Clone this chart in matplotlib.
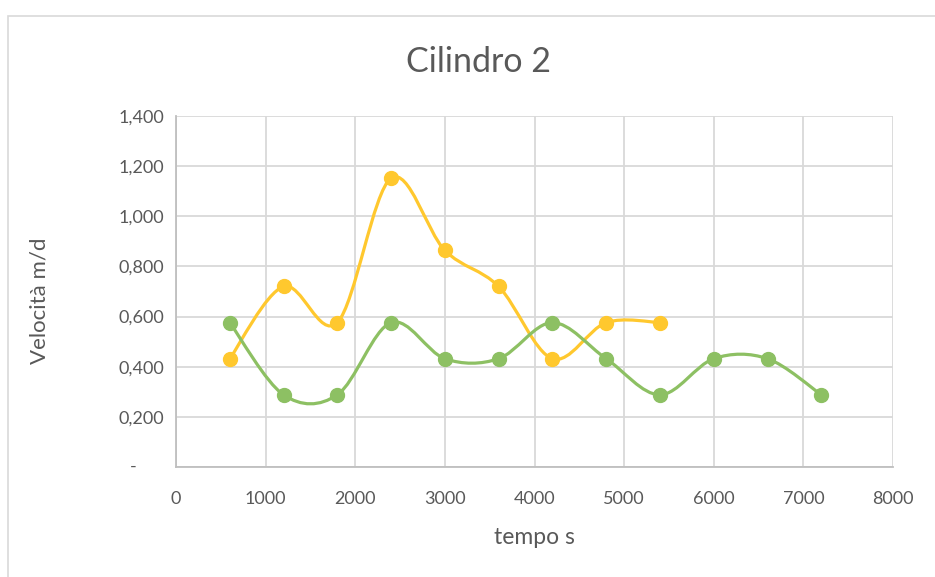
import matplotlib
matplotlib.use("Agg")
import matplotlib.pyplot as plt
from matplotlib.path import Path
from matplotlib.patches import PathPatch, Rectangle
from matplotlib.ticker import FuncFormatter, MultipleLocator

# Data: time (s) and velocity (m/d) for the two series
tempo_a = [600, 1200, 1800, 2400, 3000, 3600, 4200, 4800, 5400]
vel_a = [0.432, 0.720, 0.576, 1.152, 0.864, 0.720, 0.432, 0.576, 0.576]

tempo_b = [600, 1200, 1800, 2400, 3000, 3600, 4200, 4800, 5400, 6000, 6600, 7200]
vel_b = [0.576, 0.288, 0.288, 0.576, 0.432, 0.432, 0.576, 0.432, 0.288, 0.432, 0.432, 0.288]

title = "Cilindro 2"
x_label = "tempo s"
y_label = "Velocità m/d"

COL_A = "#FFC82E"
COL_B = "#8DC063"
TEXT = "#595959"
GRID = "#D9D9D9"

plt.rcParams["font.family"] = ["Lato", "DejaVu Sans"]


def smooth_path(xs, ys, k=1.0 / 6.0):
    """Cubic Bezier path through the points (Catmull-Rom style smoothing)."""
    n = len(xs)
    verts = [(xs[0], ys[0])]
    codes = [Path.MOVETO]
    for i in range(n - 1):
        x0, y0 = xs[max(i - 1, 0)], ys[max(i - 1, 0)]
        x1, y1 = xs[i], ys[i]
        x2, y2 = xs[i + 1], ys[i + 1]
        x3, y3 = xs[min(i + 2, n - 1)], ys[min(i + 2, n - 1)]
        c1 = (x1 + (x2 - x0) * k, y1 + (y2 - y0) * k)
        c2 = (x2 - (x3 - x1) * k, y2 - (y3 - y1) * k)
        verts += [c1, c2, (x2, y2)]
        codes += [Path.CURVE4] * 3
    return Path(verts, codes)


W, H = 935, 577
fig = plt.figure(figsize=(W / 100, H / 100), dpi=100)
ax = fig.add_axes([176 / W, 1 - 467 / H, (893 - 176) / W, (467 - 116) / H])

# chart frame
fig.patches.append(Rectangle((8 / W, -0.1), 1.2, 1 - 16 / H + 0.1,
                             transform=fig.transFigure, fill=False,
                             edgecolor="#D9D9D9", linewidth=1.2))

for xs, ys, col in [(tempo_a, vel_a, COL_A), (tempo_b, vel_b, COL_B)]:
    ax.add_patch(PathPatch(smooth_path(xs, ys), facecolor="none", edgecolor=col,
                           linewidth=2.3, capstyle="round", joinstyle="round", zorder=3))
    ax.plot(xs, ys, linestyle="none", marker="o", markersize=10,
            color=col, zorder=4)

ax.set_xlim(0, 8000)
ax.set_ylim(0, 1.4)
ax.xaxis.set_major_locator(MultipleLocator(1000))
ax.yaxis.set_major_locator(MultipleLocator(0.2))
# accounting-style labels: zero is shown as a dash set further left
ax.yaxis.set_major_formatter(FuncFormatter(
    lambda v, p: "" if abs(v) < 1e-9 else f"{v:.3f}".replace(".", ",")))
ax.annotate("-", xy=(0, 0), xycoords=("axes fraction", "data"),
            xytext=(-43, 0), textcoords="offset pixels",
            ha="center", va="center", fontsize=13, color=TEXT)
ax.xaxis.set_major_formatter(FuncFormatter(lambda v, p: f"{v:.0f}"))

ax.grid(True, color=GRID, linewidth=1.3)
ax.set_axisbelow(True)
for side in ["top", "right"]:
    ax.spines[side].set_visible(False)
for side in ["left", "bottom"]:
    ax.spines[side].set_color("#BFBFBF")
    ax.spines[side].set_linewidth(1.3)
ax.tick_params(length=0, labelsize=13, labelcolor=TEXT)
ax.tick_params(axis="x", pad=17)
ax.tick_params(axis="y", pad=8.5)

fig.text(478 / W, 1 - 62 / H, title, fontsize=24.5, color=TEXT,
         ha="center", va="center")
fig.text(534 / W, 1 - 538 / H, x_label, fontsize=16.5, color=TEXT,
         ha="center", va="center")
fig.text(40 / W, 1 - 301 / H, y_label, fontsize=16, color=TEXT,
         ha="center", va="center", rotation=90)

fig.savefig("out.png", dpi=100, facecolor="white")
